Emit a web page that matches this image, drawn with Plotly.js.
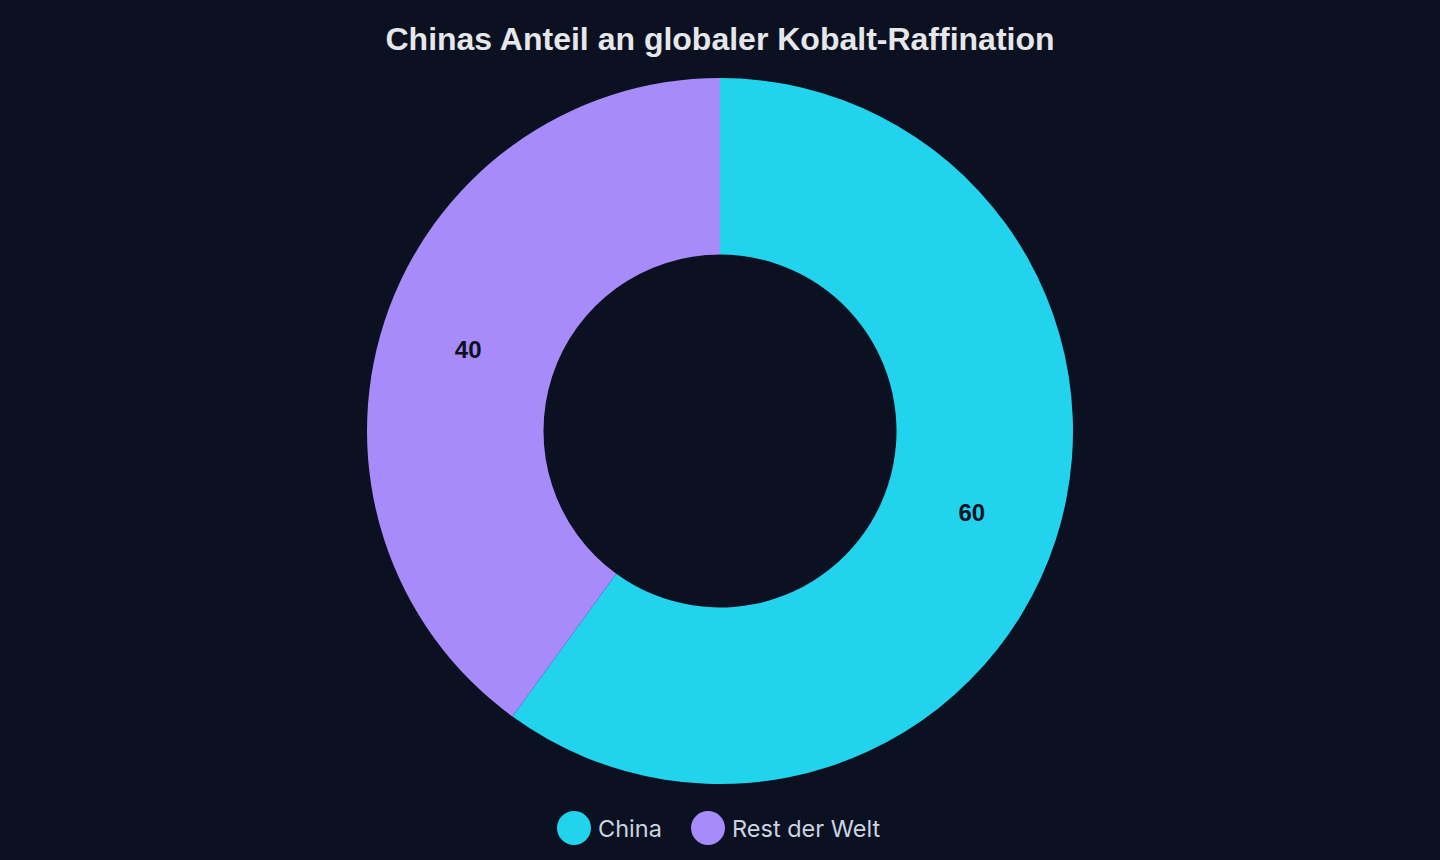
<!DOCTYPE html>
<html>
<head>
<meta charset="utf-8">
<script src="https://cdn.plot.ly/plotly-3.0.1.min.js"></script>
<style>
  html, body { margin: 0; padding: 0; background: #0b1120; }
  #chart { width: 1440px; height: 860px; }
</style>
</head>
<body>
<div id="chart"></div>
<script>
// data ------------------------------------------------------------------------
const labels = ["China", "Rest der Welt"];
const shares = [60, 40];
const colors = ["#22d3ee", "#a78bfa"];

const W = 1440, H = 860;
const margin = { l: 0, r: 0, t: 78, b: 76 };
const plotH = H - margin.t - margin.b;

// pie -------------------------------------------------------------------------
const trace = {
	type: "pie",
	labels: labels,
	values: shares,
	hole: 0.5,
	sort: false,
	direction: "clockwise",
	rotation: 0,
	marker: { colors: colors, line: { width: 0 } },
	texttemplate: "%{value}",
	textposition: "inside",
	insidetextorientation: "horizontal",
	textfont: { family: "Liberation Sans, Arial, sans-serif", size: 24, color: "#0b1120", weight: "bold" },
	showlegend: false,
	hoverinfo: "label+value",
};

// circle legend built from shapes + annotations (pie legend only does squares)
const legendY = (H - margin.b - 828) / plotH;
const legendX = [574, 708];
const shapes = labels.map((l, i) => ({
	type: "circle",
	xref: "paper", yref: "paper",
	xsizemode: "pixel", ysizemode: "pixel",
	xanchor: legendX[i] / W, yanchor: legendY,
	x0: -17, x1: 17, y0: -17, y1: 17,
	fillcolor: colors[i],
	line: { width: 0 },
}));
const annotations = labels.map((l, i) => ({
	text: l,
	xref: "paper", yref: "paper",
	x: (legendX[i] + 22) / W, y: legendY,
	xanchor: "left", yanchor: "middle",
	showarrow: false,
	font: { family: "Inter, sans-serif", size: 23.5, color: "#cbd5e1" },
}));

const layout = {
	width: W,
	height: H,
	paper_bgcolor: "#0b1120",
	plot_bgcolor: "#0b1120",
	margin: margin,
	title: {
		text: "<b>Chinas Anteil an globaler Kobalt-Raffination</b>",
		x: 0.5,
		xanchor: "center",
		y: 1 - 39 / H,
		yanchor: "middle",
		font: { family: "Liberation Sans, Arial, sans-serif", size: 32, color: "#e5e7eb" },
	},
	shapes: shapes,
	annotations: annotations,
};

Plotly.newPlot("chart", [trace], layout, { displayModeBar: false });
</script>
</body>
</html>
